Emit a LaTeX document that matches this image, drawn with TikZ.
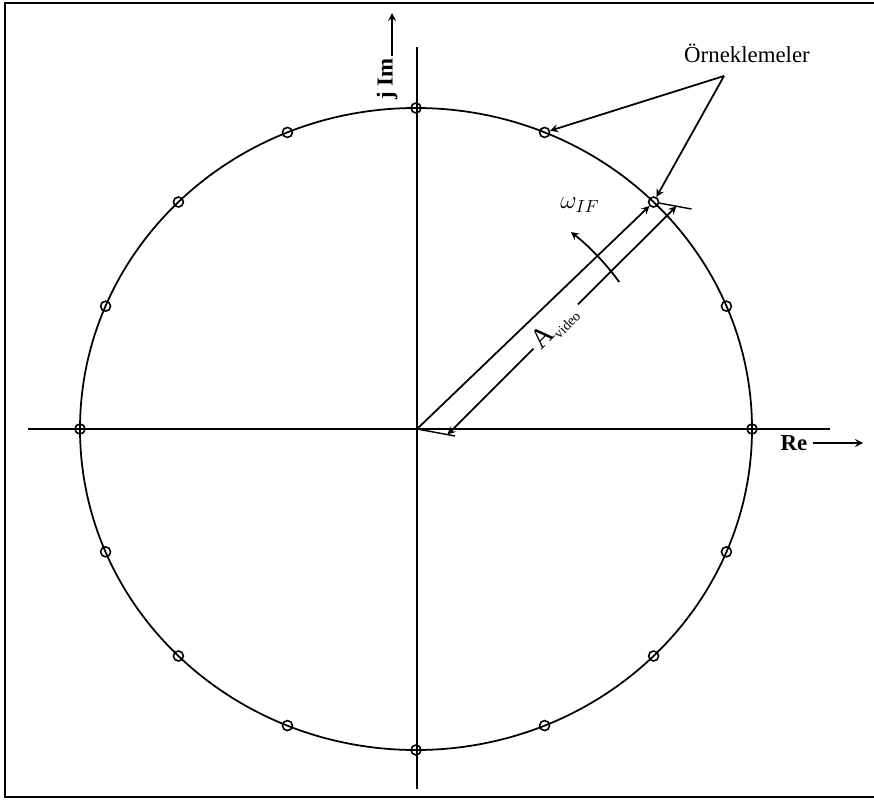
\documentclass[tikz,border=0pt]{standalone}
\usepackage{fontspec}
\setmainfont{Liberation Serif}
\usepackage{tikz}
\usetikzlibrary{positioning,calc}

\begin{document}
\begin{tikzpicture}[
  x=0.02cm, y=0.02cm,
  axisline/.style={line width=1pt},
  sample/.style={circle, draw, line width=0.9pt, inner sep=0pt, minimum size=0.2cm},
  parrow/.style={->, >=stealth, line width=1pt},
  lbl/.style={font=\fontsize{13}{15}\selectfont, inner sep=1pt},
]
\useasboundingbox (0,0) rectangle (874,799);

% Frame (right side falls outside the picture)
\draw[line width=1.4pt] (874,796) -- (5,796) -- (5,2) -- (874,2);

% Axes
\coordinate (O) at (417,370);
\draw[axisline] (28,370) -- (830,370);
\draw[axisline] (417,10) -- (417,752);

% Unit circle and the samples on it
\draw[line width=1pt] (416,370) ellipse [x radius=336, y radius=321];
\foreach \k in {0,...,15} {
  \node[sample] (s\k) at ({416+336*cos(22.5*\k)},{370+321*sin(22.5*\k)}) {};
}

% Axis labels
\node[lbl, font=\fontsize{13}{15}\selectfont\bfseries] (re) at (794,356) {Re};
\coordinate (reend) at (863,356);
\draw[parrow] (re.east) ++(4,0) -- (reend);
\node[lbl, font=\fontsize{13}{15}\selectfont\bfseries, rotate=90] (im) at (387,720) {j Im};
\coordinate (imend) at (392,786);
\draw[parrow] (im.east) ++(5,0) -- (imend);

% Samples label
\node[lbl] (ornek) at (747,746) {Örneklemeler};
\coordinate (fork) at (724,723);
\draw[parrow] (fork) -- (s3);
\draw[parrow] (fork) -- (s2);

% Radius vector
\draw[parrow] (O) -- (s2);

% Amplitude dimension
\coordinate (e1) at ($(O)+(38,-7)$);
\coordinate (e2) at ($(s2)+(38,-7)$);
\draw[line width=0.8pt] (O) -- (e1);
\draw[line width=0.8pt] (s2) -- (e2);
\coordinate (d1) at ($(O)!0.8!(e1)$);
\coordinate (d2) at ($(s2)!0.6!(e2)$);
\draw[parrow] ($(d1)!0.376!(d2)$) -- (d1);
\draw[parrow] ($(d1)!0.57!(d2)$) -- (d2);
\node[font=\fontsize{16}{18}\selectfont, rotate=45, inner sep=0pt] (amp) at ($(d1)!0.47!(d2)$) {A\raisebox{-0.35ex}{\fontsize{8}{9}\selectfont video}};

% Rotation
\coordinate (w0) at ($(O)+(36:250)$);
\draw[parrow] (w0) arc[start angle=36, end angle=52, radius=250];
\node[font=\fontsize{14}{16}\selectfont] (omega) at (580,594) {$\omega_{IF}$};
\end{tikzpicture}
\end{document}
